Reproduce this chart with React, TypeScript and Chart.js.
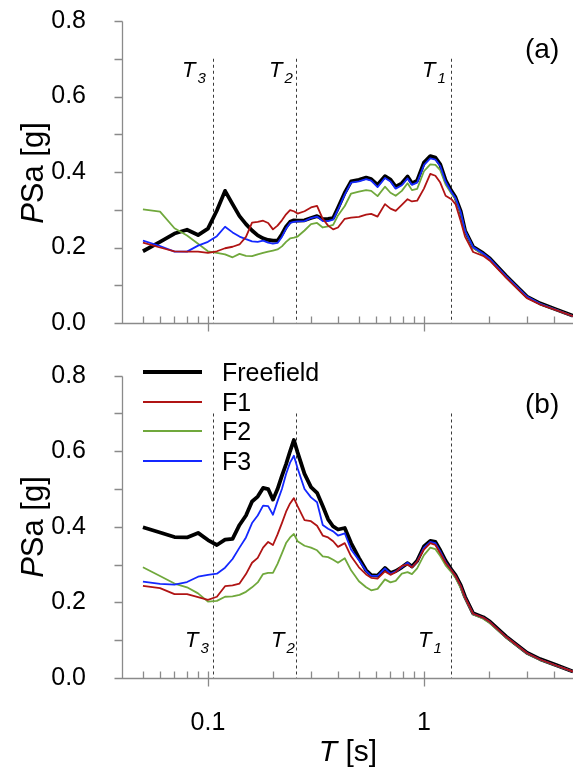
import React, { useEffect, useRef } from "react";
import { Chart, registerables } from "chart.js";
Chart.register(...registerables);

// ---------------- data ----------------
const periods = [
  0.05, 0.06, 0.07, 0.08, 0.09, 0.1, 0.11, 0.12, 0.13, 0.14, 0.15, 0.16, 0.17, 0.18, 0.19, 0.2,
  0.21, 0.22, 0.23, 0.24, 0.25, 0.26, 0.28, 0.3, 0.32, 0.34, 0.36, 0.38, 0.4, 0.43, 0.46, 0.5,
  0.54, 0.57, 0.61, 0.66, 0.7, 0.74, 0.79, 0.84, 0.88, 0.93, 1.0, 1.07, 1.13, 1.19, 1.26, 1.34,
  1.4, 1.48, 1.55, 1.69, 1.88, 2.02, 2.4, 3.0, 3.45, 4.1, 4.9,
];

// panel (a)
const freefieldA = [
  0.19, 0.215, 0.237, 0.247, 0.233, 0.25, 0.298, 0.35, 0.315, 0.283, 0.262, 0.245, 0.232, 0.224, 0.22, 0.218,
  0.218, 0.235, 0.255, 0.268, 0.272, 0.271, 0.272, 0.278, 0.283, 0.275, 0.276, 0.278, 0.305, 0.345, 0.375, 0.379,
  0.385, 0.381, 0.366, 0.389, 0.38, 0.361, 0.37, 0.388, 0.37, 0.377, 0.425, 0.442, 0.438, 0.42, 0.378, 0.35,
  0.333, 0.296, 0.245, 0.202, 0.185, 0.171, 0.125, 0.07, 0.052, 0.036, 0.019,
];
const f1A = [
  0.213, 0.2, 0.19, 0.189, 0.189, 0.186, 0.19, 0.198, 0.202, 0.208, 0.228, 0.266, 0.268, 0.271, 0.265, 0.248,
  0.258, 0.272, 0.288, 0.299, 0.296, 0.29, 0.296, 0.306, 0.31, 0.276, 0.258, 0.248, 0.253, 0.276, 0.279, 0.281,
  0.287, 0.289, 0.282, 0.315, 0.303, 0.297, 0.313, 0.328, 0.322, 0.324, 0.356, 0.395, 0.39, 0.372, 0.337, 0.328,
  0.315, 0.27, 0.229, 0.188, 0.178, 0.165, 0.12, 0.066, 0.049, 0.034, 0.018,
];
const f2A = [
  0.301, 0.295, 0.251, 0.232, 0.21, 0.19, 0.186, 0.182, 0.174, 0.183, 0.178, 0.177, 0.182, 0.186, 0.189, 0.192,
  0.195, 0.203, 0.215, 0.224, 0.226, 0.229, 0.245, 0.262, 0.265, 0.253, 0.256, 0.26, 0.285, 0.31, 0.343, 0.348,
  0.352, 0.35, 0.336, 0.361, 0.345, 0.337, 0.35, 0.37, 0.352, 0.355, 0.402, 0.42, 0.419, 0.405, 0.367, 0.343,
  0.328, 0.29, 0.243, 0.199, 0.182, 0.168, 0.123, 0.069, 0.051, 0.035, 0.018,
];
const f3A = [
  0.218, 0.204, 0.189, 0.189, 0.205, 0.215, 0.23, 0.255, 0.24, 0.229, 0.222, 0.216, 0.215, 0.218, 0.213, 0.21,
  0.212, 0.228, 0.25, 0.265, 0.268, 0.269, 0.27, 0.278, 0.282, 0.27, 0.27, 0.274, 0.3, 0.34, 0.372, 0.375,
  0.381, 0.377, 0.36, 0.384, 0.375, 0.356, 0.365, 0.383, 0.366, 0.372, 0.418, 0.436, 0.433, 0.416, 0.374, 0.347,
  0.331, 0.294, 0.244, 0.201, 0.184, 0.17, 0.124, 0.07, 0.051, 0.035, 0.018,
];

// panel (b)
const freefieldB = [
  0.399, 0.385, 0.373, 0.372, 0.384, 0.365, 0.352, 0.366, 0.368, 0.405, 0.43, 0.467, 0.48, 0.503, 0.5, 0.472,
  0.5, 0.535, 0.566, 0.6, 0.63, 0.597, 0.54, 0.505, 0.49, 0.455, 0.42, 0.401, 0.393, 0.397, 0.357, 0.318,
  0.285, 0.272, 0.271, 0.291, 0.278, 0.283, 0.293, 0.304, 0.295, 0.31, 0.348, 0.363, 0.36, 0.338, 0.31, 0.287,
  0.272, 0.246, 0.215, 0.171, 0.161, 0.149, 0.11, 0.067, 0.05, 0.034, 0.017,
];
const f1B = [
  0.244, 0.238, 0.222, 0.222, 0.214, 0.207, 0.215, 0.243, 0.245, 0.25, 0.275, 0.305, 0.318, 0.345, 0.36, 0.352,
  0.38, 0.41, 0.44, 0.462, 0.476, 0.455, 0.418, 0.415, 0.403, 0.377, 0.372, 0.362, 0.347, 0.357, 0.322, 0.293,
  0.274, 0.265, 0.263, 0.282, 0.273, 0.28, 0.297, 0.3, 0.293, 0.308, 0.34, 0.357, 0.352, 0.33, 0.305, 0.285,
  0.27, 0.244, 0.213, 0.17, 0.16, 0.148, 0.109, 0.066, 0.049, 0.033, 0.017,
];
const f2B = [
  0.293, 0.27, 0.25, 0.24, 0.224, 0.202, 0.204, 0.215, 0.216, 0.22, 0.228, 0.24, 0.253, 0.275, 0.278, 0.278,
  0.302, 0.33, 0.357, 0.372, 0.381, 0.362, 0.35, 0.345, 0.338, 0.322, 0.32, 0.313, 0.305, 0.317, 0.285, 0.256,
  0.24, 0.232, 0.236, 0.261, 0.253, 0.257, 0.276, 0.28, 0.275, 0.29, 0.325, 0.345, 0.341, 0.323, 0.298, 0.28,
  0.265, 0.238, 0.21, 0.168, 0.157, 0.145, 0.107, 0.065, 0.048, 0.033, 0.017,
];
const f3B = [
  0.255, 0.249, 0.247, 0.254, 0.268, 0.273, 0.276, 0.292, 0.315, 0.345, 0.372, 0.41, 0.43, 0.456, 0.455, 0.432,
  0.468, 0.5, 0.54, 0.57, 0.588, 0.555, 0.5, 0.478, 0.465, 0.405, 0.395, 0.388, 0.377, 0.383, 0.34, 0.312,
  0.283, 0.27, 0.27, 0.29, 0.276, 0.282, 0.293, 0.305, 0.293, 0.308, 0.345, 0.36, 0.357, 0.335, 0.307, 0.285,
  0.27, 0.244, 0.213, 0.17, 0.16, 0.148, 0.109, 0.066, 0.049, 0.033, 0.017,
];

const seriesNames = ["Freefield", "F1", "F2", "F3"];
const seriesColors = ["#000000", "#b01414", "#70a83c", "#1428ff"];
const seriesWidths = [3.8, 1.8, 1.8, 1.8];
// Chart.js draws lower "order" on top: F1 topmost, Freefield at the back
const seriesOrder = [3, 0, 2, 1];

const periodMarks = [0.105, 0.255, 1.33];
const periodMarkNames = ["3", "2", "1"];
const periodMarkTop = 0.7;
const xTickLabels = [0.1, 1];
const xMinorTicks = [0.05, 0.06, 0.07, 0.08, 0.09, 0.2, 0.3, 0.4, 0.5, 0.6, 0.7, 0.8, 0.9, 2, 3, 4];
const yMajor = [0, 0.2, 0.4, 0.6, 0.8];
const yMinor = [0.1, 0.3, 0.5, 0.7];

const FONT = "'Liberation Sans', Arial, sans-serif";

const framePlugin = {
  id: "frame",
  beforeDatasetsDraw(chart: any) {
    const { ctx, scales } = chart;
    const x = scales.x, y = scales.y;
    ctx.save();
    ctx.strokeStyle = "#3a3a3a";
    ctx.lineWidth = 1;
    ctx.setLineDash([3, 3]);
    for (const t of periodMarks) {
      const px = Math.round(x.getPixelForValue(t)) + 0.5;
      ctx.beginPath();
      ctx.moveTo(px, y.getPixelForValue(periodMarkTop));
      ctx.lineTo(px, y.getPixelForValue(0));
      ctx.stroke();
    }
    ctx.restore();
  },
  afterDraw(chart: any) {
    const { ctx, scales, chartArea } = chart;
    const x = scales.x, y = scales.y;
    const ax = Math.round(chartArea.left) + 0.5;
    const ay = Math.round(y.getPixelForValue(0)) + 0.5;
    ctx.save();
    ctx.strokeStyle = "#8a8a8a";
    ctx.lineWidth = 1.3;
    ctx.setLineDash([]);
    ctx.beginPath();
    ctx.moveTo(ax, Math.round(y.getPixelForValue(0.8)) + 0.5);
    ctx.lineTo(ax, ay);
    ctx.moveTo(ax - 8, ay);
    ctx.lineTo(chartArea.right, ay);
    for (const v of yMajor.concat(yMinor)) {
      const py = Math.round(y.getPixelForValue(v)) + 0.5;
      ctx.moveTo(ax - 8, py);
      ctx.lineTo(ax, py);
    }
    for (const v of xMinorTicks) {
      const px = Math.round(x.getPixelForValue(v)) + 0.5;
      ctx.moveTo(px, ay);
      ctx.lineTo(px, ay - 7);
    }
    for (const v of xTickLabels) {
      const px = Math.round(x.getPixelForValue(v)) + 0.5;
      ctx.moveTo(px, ay - 7);
      ctx.lineTo(px, ay + 8);
    }
    ctx.stroke();
    ctx.restore();
  },
};

function makeChart(canvas: HTMLCanvasElement, values: number[][], topPad: number, xHeight: number, showX: boolean) {
  return new Chart(canvas, {
    type: "line",
    data: {
      datasets: values.map((vals, i) => ({
        label: seriesNames[i],
        data: periods.map((p, j) => ({ x: p, y: vals[j] })),
        borderColor: seriesColors[i],
        borderWidth: seriesWidths[i],
        order: seriesOrder[i],
        pointRadius: 0,
        tension: 0,
        fill: false,
        borderJoinStyle: "round" as const,
      })),
    },
    options: {
      animation: false,
      responsive: false,
      maintainAspectRatio: false,
      layout: { padding: { top: topPad, left: 0, right: 0, bottom: 0 } },
      plugins: { legend: { display: false }, tooltip: { enabled: false } },
      scales: {
        x: {
          type: "logarithmic",
          min: 0.04,
          max: 4.9,
          border: { display: false },
          grid: { display: false },
          afterBuildTicks: (s: any) => {
            s.ticks = xTickLabels.map((v) => ({ value: v }));
          },
          ticks: {
            display: showX,
            autoSkip: false,
            maxRotation: 0,
            color: "#000",
            padding: 22,
            font: { family: FONT, size: 25, lineHeight: 1.2 },
            callback: (v: any) => String(v),
          },
          afterFit: (s: any) => {
            s.height = xHeight;
            s.paddingLeft = 0;
            s.paddingRight = 0;
            s.paddingTop = 0;
            s.paddingBottom = 0;
          },
        },
        y: {
          min: 0,
          max: 0.8,
          border: { display: false },
          grid: { display: false },
          ticks: {
            stepSize: 0.2,
            color: "#000",
            padding: 28,
            font: { family: FONT, size: 25, lineHeight: 1.2 },
            callback: (v: any) => Number(v).toFixed(1),
          },
          afterFit: (s: any) => {
            s.width = 122;
            s.paddingTop = 0;
            s.paddingBottom = 0;
            s.paddingLeft = 0;
            s.paddingRight = 0;
          },
        },
      },
    },
    plugins: [framePlugin],
  } as any);
}

const abs = (extra: React.CSSProperties): React.CSSProperties => ({
  position: "absolute",
  fontFamily: FONT,
  lineHeight: 1,
  whiteSpace: "nowrap",
  color: "#000",
  ...extra,
});

function TLabel({ left, top, sub }: { left: number; top: number; sub: string }) {
  return (
    <div style={abs({ left, top, fontSize: 22, fontStyle: "italic" })}>
      T<span style={{ fontSize: 15, position: "relative", top: 6, marginLeft: 2 }}>{sub}</span>
    </div>
  );
}

function YTitle({ cy }: { cy: number }) {
  return (
    <div
      style={abs({
        left: 32,
        top: cy,
        fontSize: 31,
        transform: "translate(-50%, -50%) rotate(-90deg)",
      })}
    >
      <i>P</i>Sa [g]
    </div>
  );
}

export default function App() {
  const topRef = useRef<HTMLCanvasElement>(null);
  const botRef = useRef<HTMLCanvasElement>(null);

  useEffect(() => {
    const c1 = makeChart(topRef.current!, [freefieldA, f1A, f2A, f3A], 21, 17, false);
    const c2 = makeChart(botRef.current!, [freefieldB, f1B, f2B, f3B], 35.7, 98, true);
    return () => {
      c1.destroy();
      c2.destroy();
    };
  }, []);

  const topMarkLeft = [182, 269, 422];
  const botMarkLeft = [185, 271, 418];
  const legendTops = [360, 390, 419, 449];

  return (
    <div style={{ position: "absolute", left: 0, top: 0, width: 573, height: 776, background: "#fff", overflow: "hidden" }}>
      <canvas ref={topRef} width={573} height={340} style={{ position: "absolute", left: 0, top: 0, width: 573, height: 340 }} />
      <canvas ref={botRef} width={573} height={436} style={{ position: "absolute", left: 0, top: 340, width: 573, height: 436 }} />

      {periodMarkNames.map((s, i) => (
        <TLabel key={"a" + i} left={topMarkLeft[i]} top={59} sub={s} />
      ))}
      {periodMarkNames.map((s, i) => (
        <TLabel key={"b" + i} left={botMarkLeft[i]} top={629} sub={s} />
      ))}

      <div style={abs({ left: 525, top: 35, fontSize: 28 })}>(a)</div>
      <div style={abs({ left: 525, top: 390, fontSize: 28 })}>(b)</div>

      <YTitle cy={173} />
      <YTitle cy={527} />

      <div style={abs({ left: 348, top: 751, fontSize: 30, transform: "translate(-50%, -50%)" })}>
        <i>T</i> [s]
      </div>

      {seriesNames.map((name, i) => (
        <React.Fragment key={name}>
          <div
            style={{
              position: "absolute",
              left: 143,
              width: 59,
              top: legendTops[i] + 12 - seriesWidths[i] / 2,
              height: seriesWidths[i] + (i === 0 ? 0.4 : 0.2),
              background: seriesColors[i],
            }}
          />
          <div style={abs({ left: 222, top: legendTops[i], fontSize: 25 })}>{name}</div>
        </React.Fragment>
      ))}
    </div>
  );
}
